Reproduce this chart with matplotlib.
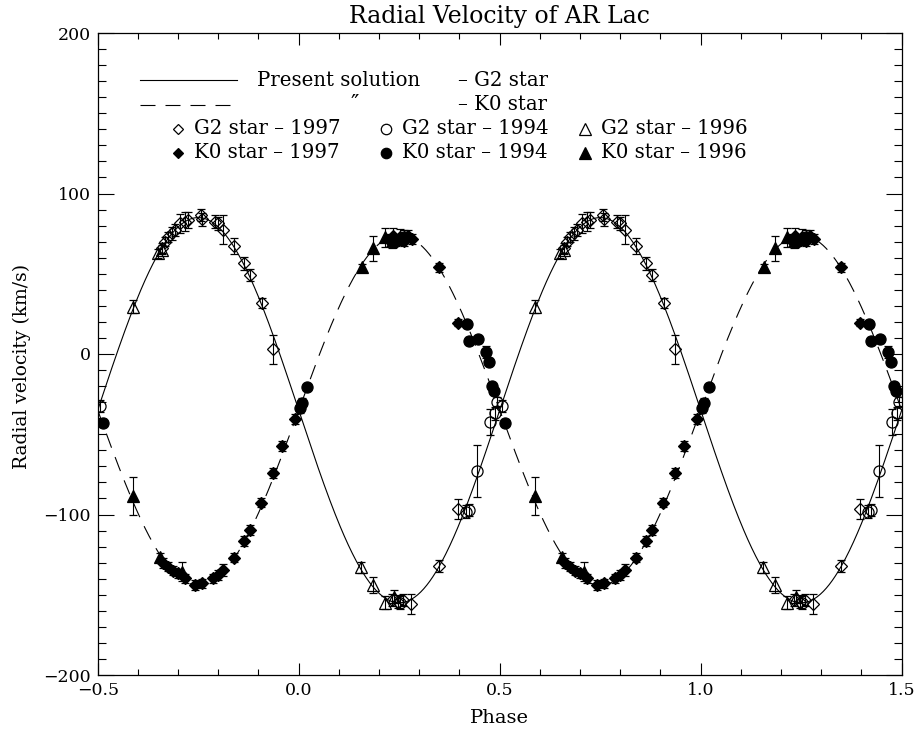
import numpy as np
import matplotlib
matplotlib.use("Agg")
import matplotlib.pyplot as plt

# ---------------- data (phase, velocity km/s, error km/s) ----------------
# G2 star - 1997 (open diamonds)
g2_97_phase = [-0.341, -0.333, -0.324, -0.316, -0.308, -0.295, -0.283, -0.275, -0.243, -0.241,
               -0.208, -0.200, -0.188, -0.161, -0.136, -0.121, -0.092, -0.063,
               0.231, 0.248, 0.260, 0.279, 0.350, 0.397]
g2_97_vel = [65.9, 70.0, 73.0, 75.2, 77.3, 81.4, 82.4, 83.5, 86.6, 84.0,
             82.4, 81.4, 77.3, 67.3, 56.5, 49.2, 31.6, 2.9,
             -153.3, -154.3, -153.3, -155.8, -132.1, -96.6]
g2_97_err = [3, 3, 3, 4, 4, 6, 6, 5, 4, 4,
             4, 4, 9, 5, 4, 4, 3, 9,
             4, 4, 4, 6, 4, 6]

# G2 star - 1994 (open circles)
g2_94_phase = [0.253, 0.416, 0.424, 0.444, 0.476, 0.488, 0.494, -0.495]
g2_94_vel = [-155.0, -98.2, -97.2, -72.9, -42.2, -37.0, -29.7, -32.4]
g2_94_err = [4, 4, 4, 16, 8, 4, 3, 4]

# G2 star - 1996 (open triangles)
g2_96_phase = [-0.411, -0.349, -0.340, 0.154, 0.186, 0.215, 0.237]
g2_96_vel = [29.5, 62.7, 65.0, -132.9, -143.9, -155.0, -151.2]
g2_96_err = [4, 3, 3, 3.5, 5, 4, 4]

# K0 star - 1997 (filled diamonds)
k0_97_phase = [-0.337, -0.324, -0.312, -0.300, -0.283, -0.258, -0.241, -0.212, -0.200, -0.188,
               -0.161, -0.136, -0.121, -0.094, -0.063, -0.042, -0.009,
               0.227, 0.235, 0.242, 0.252, 0.262, 0.272, 0.281, 0.350, 0.397]
k0_97_vel = [-130.4, -132.5, -135.0, -136.7, -139.8, -144.1, -142.9, -139.8, -137.7, -134.6,
             -126.9, -116.5, -109.7, -92.6, -74.3, -57.3, -40.5,
             71.0, 73.5, 70.0, 73.0, 70.5, 73.5, 71.7, 54.0, 19.5]
k0_97_err = [3, 3, 3, 3, 3, 3, 3, 3, 3, 4,
             3, 3, 3, 3, 3, 3, 3,
             4, 5, 3, 5, 3, 4, 3, 3, 2]

# K0 star - 1994 (filled circles)
k0_94_phase = [0.003, 0.009, 0.020, 0.232, 0.262, 0.418, 0.424, 0.445, 0.466, 0.473, 0.480, 0.486, -0.488]
k0_94_vel = [-33.8, -30.3, -20.7, 70.0, 73.0, 18.7, 8.3, 9.1, 1.2, -4.8, -19.9, -22.8, -42.8]
k0_94_err = [3, 3, 2, 4, 4, 2, 2, 2, 4, 2, 2, 2, 2]

# K0 star - 1996 (filled triangles)
k0_96_phase = [-0.413, -0.345, -0.291, 0.157, 0.186, 0.215]
k0_96_vel = [-88.5, -126.7, -135.6, 54.0, 65.8, 72.7]
k0_96_err = [11.6, 3, 6, 2, 8, 6]

# orbital solution parameters
gamma = -35.0      # systemic velocity
K_G2 = 120.0       # semi-amplitude G2 star
K_K0 = 109.0       # semi-amplitude K0 star

xticks = [-0.5, 0.0, 0.5, 1.0, 1.5]
yticks = [-200, -100, 0, 100, 200]

# ---------------- figure ----------------
W, H = 915, 733
fig = plt.figure(figsize=(W / 100, H / 100), dpi=100)
L, R, T, B = 97.7, 901.7, 33.0, 675.0
ax = fig.add_axes([L / W, 1 - B / H, (R - L) / W, (B - T) / H])

FONT = "DejaVu Serif"
plt.rcParams["font.family"] = FONT
DASH = (13.5, 9)

ph = np.linspace(-0.5, 1.5, 800)
v_g2 = gamma - K_G2 * np.sin(2 * np.pi * ph)
v_k0 = gamma + K_K0 * np.sin(2 * np.pi * ph)
ax.plot(ph, v_g2, color="black", lw=0.8)
ax.plot(ph, v_k0, color="black", lw=0.8, dashes=DASH)


def draw(phase, vel, err, marker, filled, ms):
    phase = np.asarray(phase)
    for shift in (0.0, 1.0):
        ax.errorbar(phase + shift, vel, yerr=err, fmt=marker, ms=ms,
                    mfc="black" if filled else "none", mec="black", mew=0.9,
                    ecolor="black", elinewidth=0.8, capsize=3, capthick=0.8,
                    zorder=3)


draw(g2_97_phase, g2_97_vel, g2_97_err, "D", False, 6.0)
draw(g2_94_phase, g2_94_vel, g2_94_err, "o", False, 8.0)
draw(g2_96_phase, g2_96_vel, g2_96_err, "^", False, 8.5)
draw(k0_97_phase, k0_97_vel, k0_97_err, "D", True, 6.0)
draw(k0_94_phase, k0_94_vel, k0_94_err, "o", True, 8.0)
draw(k0_96_phase, k0_96_vel, k0_96_err, "^", True, 8.5)

ax.set_xlim(-0.5, 1.5)
ax.set_ylim(-200, 200)
ax.set_xticks(xticks)
ax.set_xticklabels(["\u22120.5", "0.0", "0.5", "1.0", "1.5"])
ax.set_yticks(yticks)
ax.set_yticklabels(["\u2212200", "\u2212100", "0", "100", "200"])
ax.set_xticks(np.arange(-0.5, 1.5001, 0.1), minor=True)
ax.set_yticks(np.arange(-200, 200.1, 10), minor=True)
ax.tick_params(axis="both", which="both", direction="in", top=True, right=True,
               width=0.8, labelsize=12.5, pad=5)
ax.tick_params(axis="x", which="major", length=8.6)
ax.tick_params(axis="x", which="minor", length=4.3)
ax.tick_params(axis="y", which="major", length=11.5)
ax.tick_params(axis="y", which="minor", length=5.8)
for lab in ax.get_xticklabels() + ax.get_yticklabels():
    lab.set_fontfamily(FONT)
for sp in ax.spines.values():
    sp.set_linewidth(0.9)

fig.text(499.7 / W, 1 - 17 / H, "Radial Velocity of AR Lac", ha="center", va="center",
         fontsize=17, family=FONT)
fig.text(499.7 / W, 1 - 718 / H, "Phase", ha="center", va="center", fontsize=14, family=FONT)
fig.text(22 / W, 1 - 366 / H, "Radial velocity (km/s)", ha="center", va="center",
         rotation=90, fontsize=13.5, family=FONT)


# ---------------- legend (drawn in axes fractions) ----------------
def fx(px):
    return (px - L) / (R - L)


def fy(py):
    return 1 - (py - T) / (B - T)


tr = ax.transAxes
lg_fs = 14.2
ax.plot([fx(140), fx(237)], [fy(80), fy(80)], color="black", lw=0.8, transform=tr, clip_on=False)
ax.text(fx(257), fy(80), "Present solution", transform=tr, va="center", ha="left", fontsize=lg_fs)
ax.text(fx(458), fy(80), "\u2013 G2 star", transform=tr, va="center", ha="left", fontsize=lg_fs)
ax.plot([fx(140), fx(232)], [fy(105), fy(105)], color="black", lw=0.8, dashes=DASH,
        transform=tr, clip_on=False)
ax.text(fx(355), fy(104), "\u2033", transform=tr, va="center", ha="center", fontsize=lg_fs + 2)
ax.text(fx(458), fy(105), "\u2013 K0 star", transform=tr, va="center", ha="left", fontsize=lg_fs)

rows = [
    (129, [("D", False, 5.5, "G2 star \u2013 1997"), ("o", False, 7.5, "G2 star \u2013 1994"),
           ("^", False, 8.0, "G2 star \u2013 1996")]),
    (153, [("D", True, 5.5, "K0 star \u2013 1997"), ("o", True, 7.5, "K0 star \u2013 1994"),
           ("^", True, 8.0, "K0 star \u2013 1996")]),
]
mx = [178, 386, 585]
for py, items in rows:
    for (mk, filled, ms, label), x0 in zip(items, mx):
        ax.plot([fx(x0)], [fy(py)], marker=mk, ms=ms, mfc="black" if filled else "none",
                mec="black", mew=0.9, transform=tr, clip_on=False, ls="none")
        ax.text(fx(x0 + 16), fy(py), label, transform=tr, va="center", ha="left", fontsize=lg_fs)

fig.savefig("out.png", dpi=100, facecolor="white")
